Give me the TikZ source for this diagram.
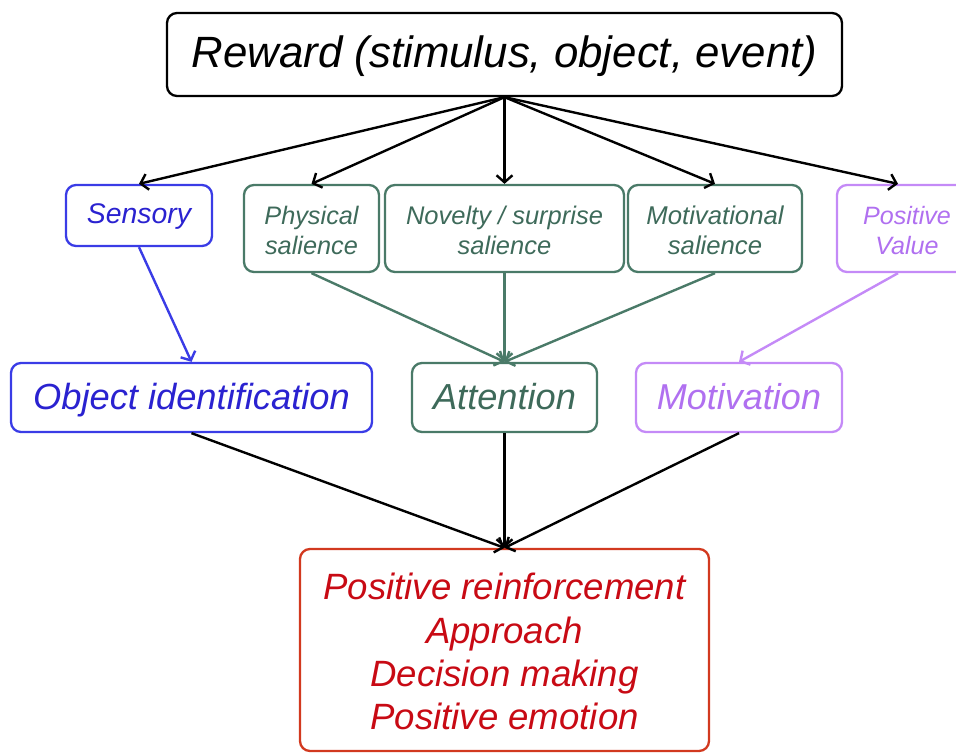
\documentclass[tikz,border=0pt]{standalone}
\usepackage{fontspec}
\setmainfont{Liberation Sans}
\usetikzlibrary{arrows.meta,calc}
\definecolor{cBlueB}{HTML}{3A3CE6}
\definecolor{cBlueT}{HTML}{2A22D0}
\definecolor{cGreenB}{HTML}{4A7A68}
\definecolor{cGreenT}{HTML}{3E6A5A}
\definecolor{cPurpB}{HTML}{C48AF7}
\definecolor{cPurpT}{HTML}{B070F0}
\definecolor{cRedB}{HTML}{D2391F}
\definecolor{cRedT}{HTML}{C80A14}
\newcommand{\topstrut}[1]{\rule{0pt}{#1}}
\tikzset{
  box/.style={draw, line width=2.3pt, rounded corners=10pt, inner sep=0pt, align=center, font=\itshape},
  arr/.style={line width=2.4pt, -{Straight Barb[length=7pt,width=16pt,line width=2.4pt]}},
}
\begin{document}
\begin{tikzpicture}[x=1pt,y=-1pt]
\useasboundingbox (0,0) rectangle (956,753);
% top
\node[box, black, minimum width=675pt, minimum height=83pt, text height=31.3pt, text depth=6.3pt,
      font=\itshape\fontsize{43.8}{50}\selectfont] (reward) at (504.5,54.5) {Reward (stimulus, object, event)};
% row 2
\node[box, draw=cBlueB, text=cBlueT, minimum width=146pt, minimum height=61pt, text height=20.3pt, text depth=5.3pt,
      font=\itshape\fontsize{28.4}{32}\selectfont] (sensory) at (139,215.5) {Sensory};
\node[box, draw=cGreenB, text=cGreenT, minimum width=135pt, minimum height=87pt,
      font=\itshape\fontsize{25.3}{30}\selectfont] (physical) at (311.5,228.5) {\topstrut{23pt}Physical\\salience};
\node[box, draw=cGreenB, text=cGreenT, minimum width=239pt, minimum height=87pt,
      font=\itshape\fontsize{25.5}{30}\selectfont] (novelty) at (504.5,228.5) {\topstrut{23pt}Novelty / surprise\\salience};
\node[box, draw=cGreenB, text=cGreenT, minimum width=174pt, minimum height=87pt,
      font=\itshape\fontsize{25.7}{30}\selectfont] (motsal) at (715,228.5) {\topstrut{23pt}Motivational\\salience};
\node[box, draw=cPurpB, text=cPurpT, minimum width=140pt, minimum height=87pt,
      font=\itshape\fontsize{25.1}{30}\selectfont] (posval) at (907,228.5) {\topstrut{23pt}Positive\\Value};
% row 3
\node[box, draw=cBlueB, text=cBlueT, minimum width=361pt, minimum height=69pt, text height=26pt, text depth=2pt,
      font=\itshape\fontsize{36.3}{42}\selectfont] (objid) at (191.5,397.5) {Object identification};
\node[box, draw=cGreenB, text=cGreenT, minimum width=185pt, minimum height=69pt, text height=26pt, text depth=2pt,
      font=\itshape\fontsize{36.2}{42}\selectfont] (attention) at (504.5,397.5) {Attention};
\node[box, draw=cPurpB, text=cPurpT, minimum width=206pt, minimum height=69pt, text height=26pt, text depth=2pt,
      font=\itshape\fontsize{36}{42}\selectfont] (motivation) at (739,397.5) {Motivation};
% bottom
\node[box, draw=cRedB, text=cRedT, minimum width=409pt, minimum height=202pt,
      font=\itshape\fontsize{36.6}{43.3}\selectfont] (outcome) at (504.5,650)
      {\topstrut{29.8pt}Positive reinforcement\\Approach\\Decision making\\Positive emotion};
% arrows from reward
\draw[arr] (reward.south) -- (sensory.north);
\draw[arr] (reward.south) -- (physical.north);
\draw[arr] (reward.south) -- (novelty.north);
\draw[arr] (reward.south) -- (motsal.north);
\draw[arr] (reward.south) -- ($(posval.north)+(-9,0)$);
% row 2 to row 3
\draw[arr, cBlueB] (sensory.south) -- (objid.north);
\draw[arr, cGreenB] (physical.south) -- (attention.north);
\draw[arr, cGreenB] (novelty.south) -- (attention.north);
\draw[arr, cGreenB] (motsal.south) -- (attention.north);
\draw[arr, cPurpB] ($(posval.south)+(-9,0)$) -- (motivation.north);
% row 3 to bottom
\draw[arr] (objid.south) -- (outcome.north);
\draw[arr] (attention.south) -- (outcome.north);
\draw[arr] (motivation.south) -- (outcome.north);
\end{tikzpicture}
\end{document}
